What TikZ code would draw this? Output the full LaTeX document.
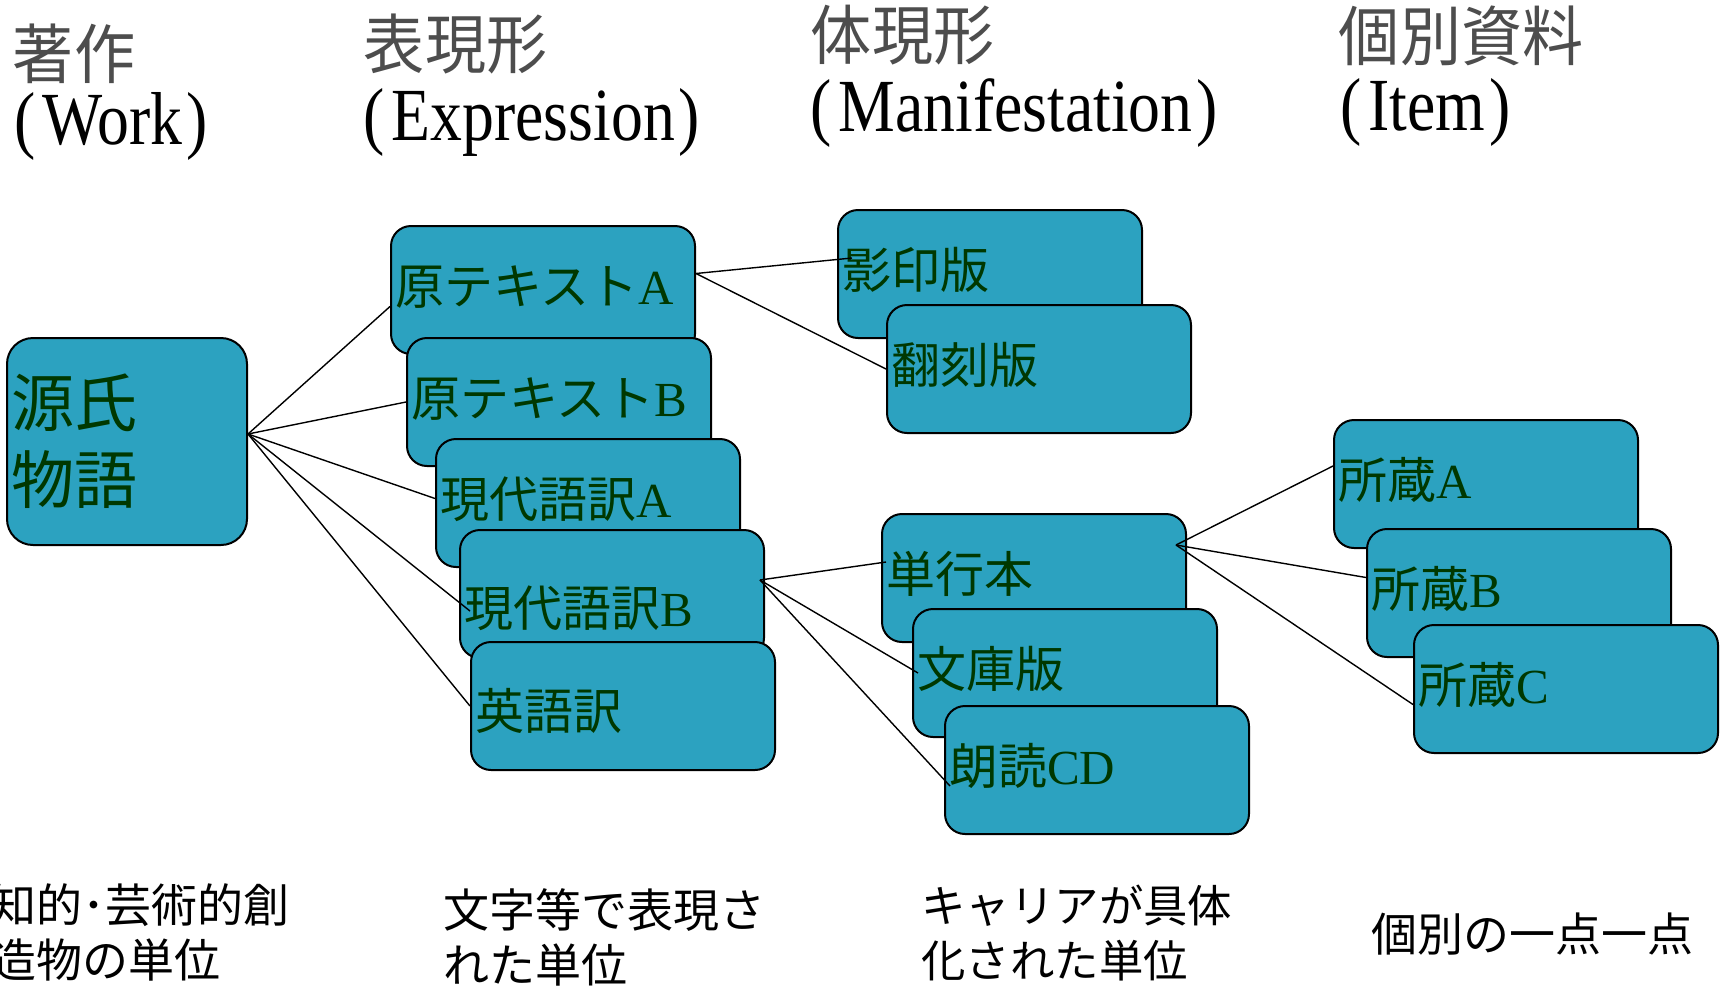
\documentclass[tikz,border=0pt]{standalone}
\usepackage{fontspec}
\setmainfont{Liberation Serif}
\newfontfamily\cjk{Noto Sans CJK JP}
\newfontfamily\cjkhead{Noto Sans CJK JP}[FakeStretch=0.94]
\newfontfamily\romhead{Liberation Serif}[FakeStretch=0.85]
\newcommand\jp[1]{{\cjk #1}}
\definecolor{boxfill}{RGB}{44,162,192}
\definecolor{boxtext}{RGB}{0,56,0}
\definecolor{headgray}{RGB}{77,77,77}
\tikzset{
  box/.style={draw=black, line width=1pt, fill=boxfill, rounded corners=10pt,
    anchor=north west, minimum height=64pt, text width=148pt, inner xsep=2pt,
    inner ysep=0pt, align=left, text=boxtext,
    font=\fontsize{24.5}{30}\selectfont, text height=#1, text depth=0pt},
  box/.default=14pt,
  genjibox/.style={draw=black, line width=1pt, fill=boxfill, rounded corners=13pt,
    anchor=north west, minimum height=103.5pt, text width=116pt, inner xsep=2pt,
    inner ysep=0pt, align=left, text=boxtext,
    font=\cjk\fontsize{31.5}{38.5}\selectfont},
  conn/.style={draw=black, line width=0.7pt},
  headj/.style={anchor=north west, inner sep=0pt, text=headgray,
    font=\cjkhead\fontsize{32.5}{36}\selectfont},
  headl/.style={anchor=north west, inner sep=0pt, text=black,
    font=\romhead\fontsize{37.5}{40}\selectfont},
  note/.style={anchor=north west, inner sep=0pt, text=black, align=left,
    font=\cjk\fontsize{23}{27.5}\selectfont},
}
\begin{document}
\begin{tikzpicture}[x=0.5pt,y=-0.5pt]
\useasboundingbox (0,0) rectangle (1723,986);
% headers
\node[headj] (hw) at (12.5,23) {著作};
\node[headl] (hwe) at (14,92) {(\hspace{3.5pt}Work\hspace{2pt})};
\node[headj] (he) at (363.5,13) {表現形};
\node[headl] (hee) at (363,88) {(\hspace{3.5pt}Expression\hspace{2pt})};
\node[headj] (hm) at (810.5,5) {体現形};
\node[headl] (hme) at (810,78) {(\hspace{3.5pt}Manifestation\hspace{2pt})};
\node[headj] (hi) at (1338.5,5) {個別資料};
\node[headl] (hie) at (1340,78) {(\hspace{3.5pt}Item\hspace{2pt})};
% work
\node[genjibox] (genji) at (6,337) {源氏\\物語};
% expressions
\node[box] (tA) at (390,225) {\jp{原テキスト}A};
\node[box] (tB) at (406,337) {\jp{原テキスト}B};
\node[box] (mA) at (435,438) {\jp{現代語訳}A};
\node[box=32pt] (mB) at (459,529) {\jp{現代語訳}B};
\node[box=23.5pt] (en) at (470,641) {\jp{英語訳}};
% manifestations
\node[box] (ei) at (837,209) {\jp{影印版}};
\node[box] (hon) at (886,304) {\jp{翻刻版}};
\node[box] (tan) at (881,513) {\jp{単行本}};
\node[box] (bun) at (912,608) {\jp{文庫版}};
\node[box] (rou) at (944,705) {\jp{朗読}CD};
% items
\node[box] (sA) at (1333,419) {\jp{所蔵}A};
\node[box] (sB) at (1366,528) {\jp{所蔵}B};
\node[box] (sC) at (1413,624) {\jp{所蔵}C};
% connectors
\draw[conn] ([yshift=3.75pt]genji.east) -- ([yshift=-8.25pt]tA.west);
\draw[conn] ([yshift=3.75pt]genji.east) -- (tB.west);
\draw[conn] ([yshift=3.75pt]genji.east) -- ([yshift=2.25pt]mA.west);
\draw[conn] ([yshift=3.75pt]genji.east) -- ([xshift=5.5pt,yshift=-8.5pt]mB.west);
\draw[conn] ([yshift=3.75pt]genji.east) -- (en.west);
\draw[conn] ([yshift=8.25pt]tA.east) -- ([xshift=7.5pt,yshift=8pt]ei.west);
\draw[conn] ([yshift=8.25pt]tA.east) -- (hon.west);
\draw[conn] ([xshift=-2.5pt,yshift=7pt]mB.east) -- ([xshift=2.5pt,yshift=8pt]tan.west);
\draw[conn] ([xshift=-2.5pt,yshift=7pt]mB.east) -- ([xshift=3pt]bun.west);
\draw[conn] ([xshift=-2.5pt,yshift=7pt]mB.east) -- ([xshift=3pt,yshift=-8pt]rou.west);
\draw[conn] ([xshift=-5.5pt,yshift=16.5pt]tan.east) -- ([yshift=9pt]sA.west);
\draw[conn] ([xshift=-5.5pt,yshift=16.5pt]tan.east) -- ([yshift=7.75pt]sB.west);
\draw[conn] ([xshift=-5.5pt,yshift=16.5pt]tan.east) -- ([yshift=-7.75pt]sC.west);
% notes
\node[note] (nw) at (-10,883) {知的･芸術的創\\造物の単位};
\node[note] (ne) at (443,888) {文字等で表現さ\\れた単位};
\node[note, font=\cjk\fontsize{22.2}{27.5}\selectfont] (nm) at (921,885) {キャリアが具体\\化された単位};
\node[note] (ni) at (1371,912) {個別の一点一点};
\end{tikzpicture}
\end{document}
